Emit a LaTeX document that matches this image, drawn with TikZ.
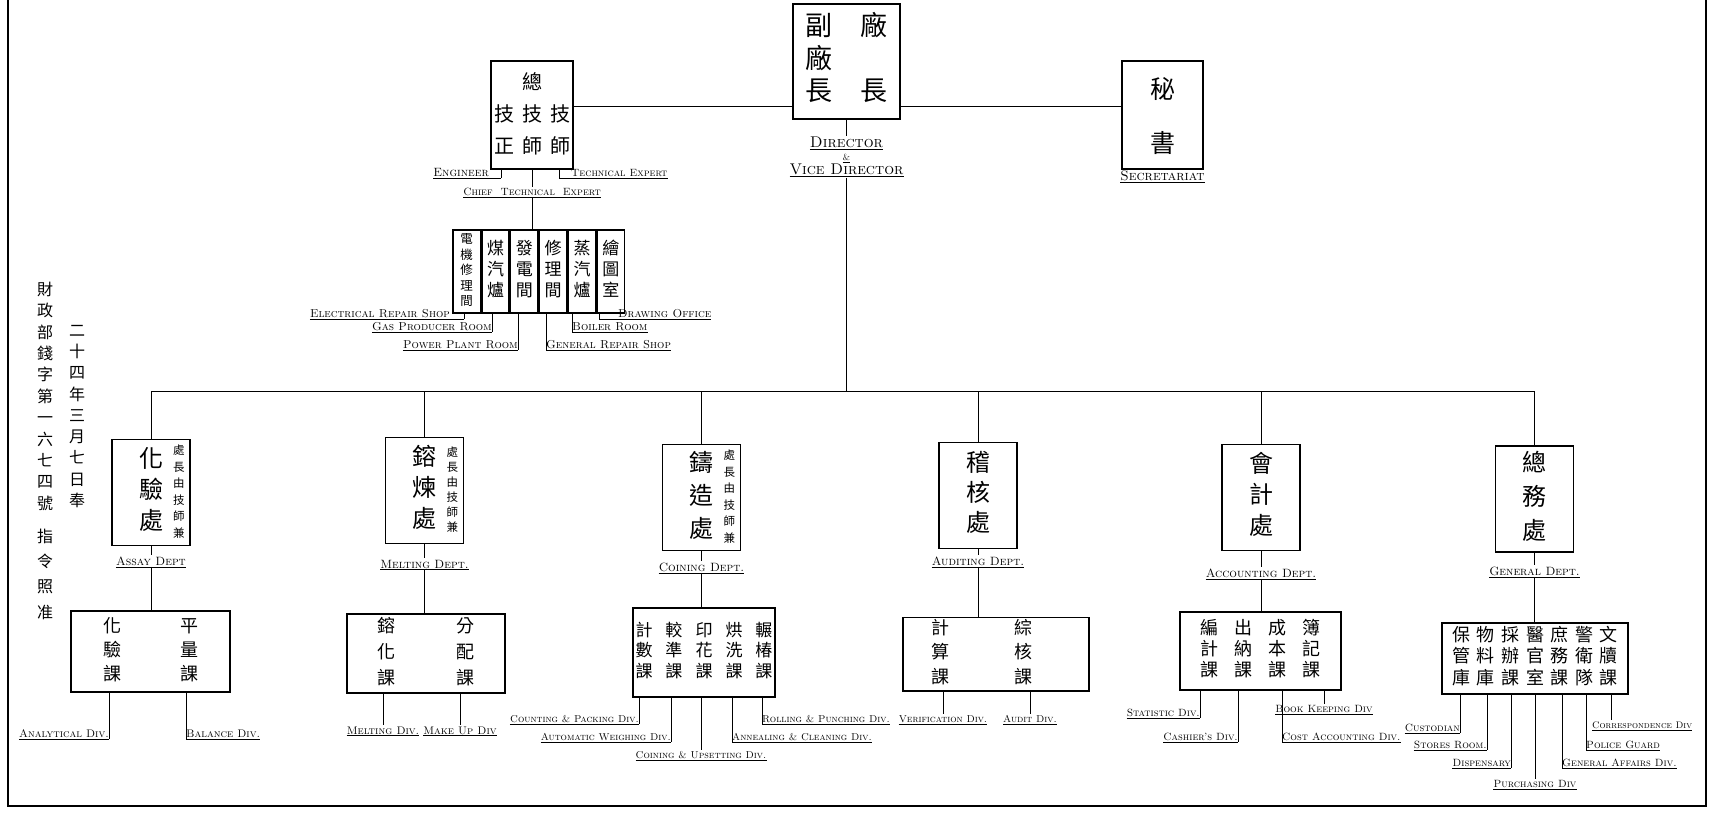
\documentclass[tikz,border=0pt]{standalone}
\usepackage{fontspec}
\newfontfamily\cjk{Noto Sans CJK TC}
\usetikzlibrary{positioning}

% vertical column of characters: size, line step, rows
\newcommand{\vstack}[3]{{\fontsize{#1}{#2}\selectfont\begin{tabular}{@{}c@{}}#3\end{tabular}}}
% grid of characters: size, line step, half column gap, columns, rows
\newcommand{\cgrid}[5]{{\fontsize{#1}{#2}\selectfont\setlength{\tabcolsep}{#3}%
  \begin{tabular}{@{}*{#4}{c}@{}}#5\end{tabular}}}

\begin{document}
\begin{tikzpicture}[x=1pt,y=-1pt,
    box/.style={draw,line width=1.5pt,inner sep=0pt,font=\cjk},
    dept/.style={box,minimum width=78pt,minimum height=106pt},
    shop/.style={box,minimum width=27.33pt,minimum height=83pt},
    note/.style={inner sep=0pt,font=\cjk},
    link/.style={line width=0.7pt},
    tag/.style={inner xsep=0pt,inner ysep=1.3pt,
                font=\fontsize{#1}{#1}\selectfont\scshape,
                append after command={(\tikzlastnode.south west) edge[link]
                                      (\tikzlastnode.south east)}},
    tag/.default=10.5,
]
\useasboundingbox (0,0) rectangle (1711,817);

% ---- Frame ---------------------------------------------------------------
\draw[line width=1.2pt] (8,0) -- (8,806) -- (1706,806) -- (1706,0);

% ---- Decree note ---------------------------------------------------------
\node[note] (decreeA) at (45,398)
    {\vstack{16}{21.4}{財\\政\\部\\錢\\字\\第\\一\\六\\七\\四\\號}};
\node[note] (decreeB) at (45,575) {\vstack{16}{25.3}{指\\令\\照\\准}};
\node[note] (dateC) at (77,417)
    {\vstack{16}{21.25}{二\\十\\四\\年\\三\\月\\七\\日\\奉}};

% ---- Director, chief technical expert, secretariat -----------------------
\node[box,minimum width=107pt,minimum height=115pt] (dir) at (846.5,61.5)
    {\cgrid{27}{32}{14pt}{2}{副&廠\\廠&\\長&長}};
\node[box,minimum width=82pt,minimum height=108pt] (chief) at (532,115)
    {\cgrid{20}{32}{4pt}{3}{&總&\\技&技&技\\正&師&師}};
\node[box,minimum width=81pt,minimum height=100pt] (sec) at (1162.5,115)
    {\raisebox{5pt}{\vstack{25}{54}{秘\\書}}};
\coordinate (top) at (846.5,106);
\draw[link] (chief.east |- top) -- (dir.west |- top);
\draw[link] (dir.east |- top) -- (sec.west |- top);

\node[align=center,inner sep=1pt,font=\fontsize{15.5}{12.5}\selectfont\scshape]
    (dirL) at (846.5,157)
    {\underline{Director}\\\underline{\fontsize{9}{9}\selectfont\&}\\\underline{Vice Director}};
\draw[link] (dir.south) -- (dirL.north);
\coordinate (bus) at (846.5,391);
\draw[link] (dirL.south) -- (dirL.south |- bus);

\node[tag=13.8] (secL) at (1162.5,176) {Secretariat};
\draw[link] (sec.south) -- (secL.north);

\node[tag=12,anchor=south east] (engL) at (501,178) {Engineer\kern12pt};
\node[tag=10.5,anchor=south west] (techL) at (559,178) {\kern12pt Technical Expert};
\node[tag=10.5] (chiefL) at (532,192) {Chief \ Technical \ Expert};
\draw[link] (chief.south -| engL.south east) -- (engL.south east);
\draw[link] (chief.south -| techL.south west) -- (techL.south west);
\draw[link] (chief.south) -- (chiefL.north);

% ---- Workshops -----------------------------------------------------------
\node[shop] (shop1) at (466.7,271.5) {\vstack{12.5}{15.5}{電\\機\\修\\理\\間}};
\node[shop,right=0pt of shop1] (shop2) {\vstack{17}{21}{煤\\汽\\爐}};
\node[shop,right=0pt of shop2] (shop3) {\vstack{17}{21}{發\\電\\間}};
\node[shop,right=0pt of shop3] (shop4) {\vstack{17}{21}{修\\理\\間}};
\node[shop,right=0pt of shop4] (shop5) {\vstack{17}{21}{蒸\\汽\\爐}};
\node[shop,right=0pt of shop5] (shop6) {\vstack{17}{21}{繪\\圖\\室}};
\draw[link] (chiefL.south) -- (chiefL.south |- shop1.north);

\node[tag=11.5,anchor=south east] (elecL) at (464,319) {Electrical Repair Shop\kern14pt};
\node[tag=11.5,anchor=south east] (gasL)  at (492,332) {Gas Producer Room};
\node[tag=11.5,anchor=south east] (powL)  at (518,350) {Power Plant Room};
\node[tag=11.5,anchor=south west] (repL)  at (546,350) {General Repair Shop};
\node[tag=11.5,anchor=south west] (boilL) at (572,332) {Boiler Room};
\node[tag=11.5,anchor=south west] (drawL) at (599,319) {\kern19pt Drawing Office};
\draw[link] (shop1.south -| elecL.south east) -- (elecL.south east);
\draw[link] (shop2.south -| gasL.south east) -- (gasL.south east);
\draw[link] (shop3.south -| powL.south east) -- (powL.south east);
\draw[link] (shop4.south -| repL.south west) -- (repL.south west);
\draw[link] (shop5.south -| boilL.south west) -- (boilL.south west);
\draw[link] (shop6.south -| drawL.south west) -- (drawL.south west);

% ---- Departments ---------------------------------------------------------
\node[dept] (assay) at (151,492.5) {\vstack{24}{31}{化\\驗\\處}};
\node[note,left=6pt of assay.east] (assayN) {\vstack{11.5}{16.5}{處\\長\\由\\技\\師\\兼}};
\node[dept] (melt) at (424.5,490.5) {\vstack{24}{31}{鎔\\煉\\處}};
\node[note,left=6pt of melt.east] (meltN) {\vstack{11.5}{15}{處\\長\\由\\技\\師\\兼}};
\node[dept] (coin) at (701.5,497.5) {\vstack{24}{33}{鑄\\造\\處}};
\node[note,left=6pt of coin.east] (coinN) {\vstack{11.5}{16.5}{處\\長\\由\\技\\師\\兼}};
\node[dept] (audit) at (978,495.5) {\vstack{24}{30}{稽\\核\\處}};
\node[dept] (acct) at (1261,497.5) {\vstack{24}{31}{會\\計\\處}};
\node[dept] (genl) at (1534.5,499) {\vstack{24}{34}{總\\務\\處}};

\draw[link] (assay |- bus) -- (genl |- bus);
\draw[link] (assay |- bus) -- (assay.north);
\draw[link] (melt |- bus) -- (melt.north);
\draw[link] (coin |- bus) -- (coin.north);
\draw[link] (audit |- bus) -- (audit.north);
\draw[link] (acct |- bus) -- (acct.north);
\draw[link] (genl |- bus) -- (genl.north);

\node[tag=12] (assayL) at (151,561) {Assay Dept};
\node[tag=12] (meltL) at (424.5,564) {Melting Dept.};
\node[tag=12] (coinL) at (701.5,567) {Coining Dept.};
\node[tag=12] (auditL) at (978,561) {Auditing Dept.};
\node[tag=12] (acctL) at (1261,573) {Accounting Dept.};
\node[tag=12] (genlL) at (1534.5,571) {General Dept.};
\draw[link] (assay.south) -- (assayL.north);
\draw[link] (melt.south) -- (meltL.north);
\draw[link] (coin.south) -- (coinL.north);
\draw[link] (audit.south) -- (auditL.north);
\draw[link] (acct.south) -- (acctL.north);
\draw[link] (genl.south) -- (genlL.north);

% ---- Divisions -----------------------------------------------------------
\node[box,minimum width=159pt,minimum height=81pt] (assaySub) at (150.5,651.5)
    {\cgrid{18}{24}{29.5pt}{2}{化&平\\驗&量\\課&課}};
\node[box,minimum width=158pt,minimum height=79pt] (meltSub) at (426,653.5)
    {\cgrid{18}{26}{30.5pt}{2}{鎔&分\\化&配\\課&課}};
\node[box,minimum width=142pt,minimum height=89pt] (coinSub) at (704,652.5)
    {\cgrid{17}{20.5}{6.5pt}{5}{計&較&印&烘&輾\\數&準&花&洗&椿\\課&課&課&課&課}};
\node[box,minimum width=186pt,minimum height=70pt] (auditSub) at (996,654)
    {\cgrid{18}{24.5}{32.5pt}{2}{計&綜\\算&核\\課&課}\kern28pt};
\node[box,minimum width=161pt,minimum height=78pt] (acctSub) at (1260.5,651)
    {\cgrid{18}{20}{8pt}{4}{編&出&成&簿\\計&納&本&記\\課&課&課&課}};
\node[box,minimum width=186pt,minimum height=71pt] (genlSub) at (1535,658.5)
    {\cgrid{18}{21}{3.3pt}{7}{保&物&採&醫&庶&警&文\\管&料&辦&官&務&衛&牘\\庫&庫&課&室&課&隊&課}};

\draw[link] (assayL.south) -- (assayL.south |- assaySub.north);
\draw[link] (meltL.south) -- (meltL.south |- meltSub.north);
\draw[link] (coinL.south) -- (coinL.south |- coinSub.north);
\draw[link] (auditL.south) -- (auditL.south |- auditSub.north);
\draw[link] (acctL.south) -- (acctL.south |- acctSub.north);
\draw[link] (genlL.south) -- (genlL.south |- genlSub.north);

% assay
\node[tag=11,anchor=south east] (anaL) at (109,739) {Analytical Div.};
\node[tag=11,anchor=south west] (balL) at (186,739) {Balance Div.};
\draw[link] (assaySub.south -| anaL.south east) -- (anaL.south east);
\draw[link] (assaySub.south -| balL.south west) -- (balL.south west);

% melting
\node[tag=11,anchor=north] (mdivL) at (383,725) {Melting Div.};
\node[tag=11,anchor=north] (mkL) at (460,725) {Make Up Div};
\draw[link] (meltSub.south -| mdivL.north) -- (mdivL.north);
\draw[link] (meltSub.south -| mkL.north) -- (mkL.north);

% coining
\node[tag=10,anchor=south east] (cntL) at (639,724) {Counting \& Packing Div.};
\node[tag=10,anchor=south east] (autL) at (671,742) {Automatic Weighing Div.};
\node[tag=10,anchor=north] (cuL) at (701,750) {Coining \& Upsetting Div.};
\node[tag=10,anchor=south west] (annL) at (732,742) {Annealing \& Cleaning Div.};
\node[tag=10,anchor=south west] (rolL) at (762,724) {Rolling \& Punching Div.};
\draw[link] (coinSub.south -| cntL.south east) -- (cntL.south east);
\draw[link] (coinSub.south -| autL.south east) -- (autL.south east);
\draw[link] (coinSub.south -| cuL.north) -- (cuL.north);
\draw[link] (coinSub.south -| annL.south west) -- (annL.south west);
\draw[link] (coinSub.south -| rolL.south west) -- (rolL.south west);

% auditing
\node[tag=10,anchor=north] (verL) at (943,714) {Verification Div.};
\node[tag=10,anchor=north] (audL) at (1030,714) {Audit Div.};
\draw[link] (auditSub.south -| verL.north) -- (verL.north);
\draw[link] (auditSub.south -| audL.north) -- (audL.north);

% accounting
\node[tag,anchor=south east] (statL) at (1200,718) {Statistic Div.};
\node[tag,anchor=south east] (cashL) at (1238,742) {Cashier's Div.};
\node[tag,anchor=south west] (costL) at (1282,742) {Cost Accounting Div.};
\node[tag,anchor=north] (bookL) at (1324,704) {Book Keeping Div};
\draw[link] (acctSub.south -| statL.south east) -- (statL.south east);
\draw[link] (acctSub.south -| cashL.south east) -- (cashL.south east);
\draw[link] (acctSub.south -| costL.south west) -- (costL.south west);
\draw[link] (acctSub.south -| bookL.north) -- (bookL.north);

% general
\node[tag,anchor=south east] (custL) at (1460,733) {Custodian};
\node[tag,anchor=south east] (storL) at (1487,750) {Stores Room.};
\node[tag,anchor=south east] (dispL) at (1511,768) {Dispensary};
\node[tag,anchor=north] (purL) at (1535,779) {Purchasing Div};
\node[tag,anchor=south west] (gafL) at (1562,768) {General Affairs Div.};
\node[tag,anchor=south west] (polL) at (1586,750) {Police Guard};
\node[tag=9.5,anchor=north west] (corL) at (1592,720) {Correspondence Div};
\coordinate[right=19pt of corL.north west] (corT);
\draw[link] (genlSub.south -| custL.south east) -- (custL.south east);
\draw[link] (genlSub.south -| storL.south east) -- (storL.south east);
\draw[link] (genlSub.south -| dispL.south east) -- (dispL.south east);
\draw[link] (genlSub.south -| purL.north) -- (purL.north);
\draw[link] (genlSub.south -| gafL.south west) -- (gafL.south west);
\draw[link] (genlSub.south -| polL.south west) -- (polL.south west);
\draw[link] (genlSub.south -| corT) -- (corT);

\end{tikzpicture}
\end{document}
